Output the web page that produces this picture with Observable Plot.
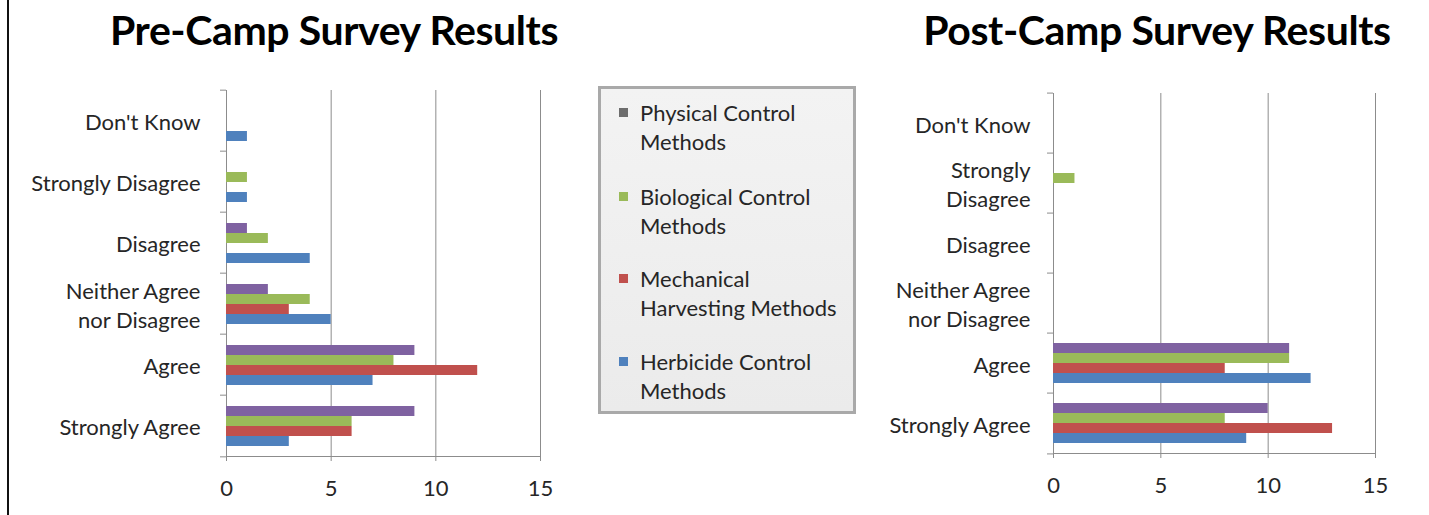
<!DOCTYPE html>
<html>
<head>
<meta charset="utf-8">
<script src="https://cdn.jsdelivr.net/npm/d3@7"></script>
<script src="https://cdn.jsdelivr.net/npm/@observablehq/plot@0.6"></script>
<style>
  html, body { margin: 0; padding: 0; background: #fff; }
  #root { position: relative; width: 1429px; height: 515px; overflow: hidden; background: #fff; font-family: Lato, "Open Sans", sans-serif; }
  .frame-line { position: absolute; left: 7px; top: 0; width: 2px; height: 515px; background: #111; }
  .title { position: absolute; top: 5px; font-weight: 700; font-size: 41px; color: #000; white-space: nowrap; transform: translateX(-50%); letter-spacing: -0.4px; }
  .plot { position: absolute; top: 0; }
  #legend { position: absolute; left: 598px; top: 86px; width: 252px; height: 322px; border: 3px solid #a9a9a9; background: linear-gradient(#f3f3f3, #ebebeb); box-sizing: content-box; }
  .item { position: absolute; left: 39px; font-size: 22px; line-height: 29px; color: #262626; white-space: nowrap; }
  .swatch { position: absolute; left: -21px; top: 10px; width: 9px; height: 9px; }
</style>
</head>
<body>
<div id="root">
  <div class="frame-line"></div>
  <div class="title" style="left:334px">Pre-Camp Survey Results</div>
  <div class="title" style="left:1157px">Post-Camp Survey Results</div>
  <div id="pre" class="plot" style="left:0px"></div>
  <div id="post" class="plot" style="left:860px"></div>
  <div id="legend"></div>
</div>
<script>
const categories = ["Don't Know", "Strongly Disagree", "Disagree", "Neither Agree nor Disagree", "Agree", "Strongly Agree"];
const preLabels = ["Don't Know", "Strongly Disagree", "Disagree", "Neither Agree\nnor Disagree", "Agree", "Strongly Agree"];
const postLabels = ["Don't Know", "Strongly\nDisagree", "Disagree", "Neither Agree\nnor Disagree", "Agree", "Strongly Agree"];
const series = ["Physical Control Methods", "Biological Control Methods", "Mechanical Harvesting Methods", "Herbicide Control Methods"];
const legendLabels = ["Physical Control\nMethods", "Biological Control\nMethods", "Mechanical\nHarvesting Methods", "Herbicide Control\nMethods"];
const seriesColors = ["#7f62a1", "#9aba59", "#c0504d", "#4f81bd"];
const legendSwatches = ["#6d6d6d", "#9aba59", "#c0504d", "#4f81bd"];
const xTicks = [0, 5, 10, 15];

// values per series, in category order
const prePhysical   = [0, 0, 1, 2, 9, 9];
const preBiological = [0, 1, 2, 4, 8, 6];
const preMechanical = [0, 0, 0, 3, 12, 6];
const preHerbicide  = [1, 1, 4, 5, 7, 3];

const postPhysical   = [0, 0, 0, 0, 11, 10];
const postBiological = [0, 1, 0, 0, 11, 8];
const postMechanical = [0, 0, 0, 0, 8, 13];
const postHerbicide  = [0, 0, 0, 0, 12, 9];

function buildRows(values) {
  const rows = [];
  series.forEach((s, j) => categories.forEach((c, i) => {
    rows.push({category: c, series: s, value: values[j][i]});
  }));
  return rows;
}

function chart({values, labels, width, marginLeft, marginRight, marginTop, marginBottom, labelPad}) {
  const height = 515;
  const rows = buildRows(values);
  const half = (height - marginTop - marginBottom) / categories.length / 2;
  const axisColor = "#8c8c8c";
  return Plot.plot({
    width, height, marginLeft, marginRight, marginTop, marginBottom,
    style: {fontFamily: "Lato, 'Open Sans', sans-serif", fontSize: "22px", color: "#262626", background: "transparent", overflow: "visible"},
    x: {domain: [0, 15]},
    y: {domain: series, axis: null, paddingInner: 0, paddingOuter: 0.8},
    fy: {domain: categories, padding: 0},
    color: {domain: series, range: seriesColors},
    marks: [
      Plot.gridX({ticks: [5, 10, 15], stroke: axisColor, strokeOpacity: 1}),
      Plot.ruleX([0], {stroke: axisColor}),
      Plot.barX(rows, {filter: (d) => d.value > 0, x: "value", y: "series", fy: "category", fill: "series"}),
      Plot.axisX({ticks: xTicks, tickSize: 5, tickPadding: 19, stroke: axisColor, fill: "#262626", label: null, fontSize: 22}),
      Plot.axisFy({anchor: "left", tickSize: 0, tickPadding: labelPad, label: null, fill: "#262626", fontSize: 22, lineHeight: 1.33,
        tickFormat: (d) => labels[categories.indexOf(d)]}),
      Plot.axisFy({anchor: "left", tickSize: 6, tickFormat: () => "", label: null, dy: -half, stroke: axisColor}),
      Plot.axisFy({anchor: "left", ticks: [categories[categories.length - 1]], tickSize: 6, tickFormat: () => "", label: null, dy: half, stroke: axisColor}),
      Plot.frame({anchor: "bottom", facet: "super", stroke: axisColor})
    ]
  });
}

document.getElementById("pre").append(chart({
  values: [prePhysical, preBiological, preMechanical, preHerbicide],
  labels: preLabels, width: 580, marginLeft: 226, marginRight: 40, marginTop: 88, marginBottom: 57, labelPad: 26
}));
document.getElementById("post").append(chart({
  values: [postPhysical, postBiological, postMechanical, postHerbicide],
  labels: postLabels, width: 569, marginLeft: 193, marginRight: 54, marginTop: 90, marginBottom: 60, labelPad: 23
}));

const legend = document.getElementById("legend");
const legendTops = [9, 93, 175, 258];
legendLabels.forEach((label, i) => {
  const item = document.createElement("div");
  item.className = "item";
  item.style.top = legendTops[i] + "px";
  const sw = document.createElement("div");
  sw.className = "swatch";
  sw.style.background = legendSwatches[i];
  item.append(sw);
  label.split("\n").forEach((line, k) => {
    if (k) item.append(document.createElement("br"));
    item.append(document.createTextNode(line));
  });
  legend.append(item);
});
</script>
</body>
</html>
